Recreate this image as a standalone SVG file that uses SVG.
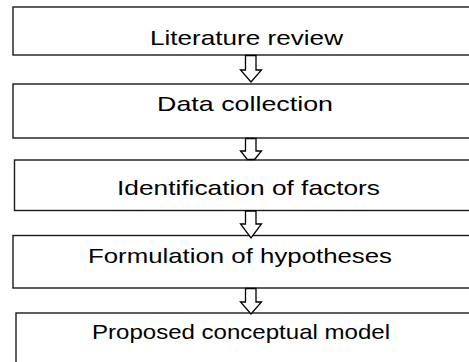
<svg xmlns="http://www.w3.org/2000/svg" width="469" height="362" viewBox="0 0 469 362">
<style>
.box{fill:#fff;stroke:#1a1a1a;stroke-width:1.4}
.lbl{font-family:"Liberation Sans",Arial,sans-serif;font-size:21px;fill:#000;text-anchor:middle}
.arr{fill:#fff;stroke:#000;stroke-width:1.3;stroke-linejoin:miter}
</style>
<rect width="469" height="362" fill="#fff"/>
<g id="n1"><rect class="box" x="13" y="7" width="470" height="48"/><text class="lbl" x="246.5" y="44.5" textLength="193" lengthAdjust="spacingAndGlyphs">Literature review</text></g>
<g id="n2"><rect class="box" x="13" y="84" width="470" height="54"/><text class="lbl" x="245" y="111" textLength="176" lengthAdjust="spacingAndGlyphs">Data collection</text></g>
<g id="n3"><rect class="box" x="14.5" y="160" width="470" height="50.5"/><text class="lbl" x="248.5" y="195" textLength="263" lengthAdjust="spacingAndGlyphs">Identification of factors</text></g>
<g id="n4"><rect class="box" x="13" y="235.5" width="470" height="52.5"/><text class="lbl" x="240" y="262.5" textLength="304" lengthAdjust="spacingAndGlyphs">Formulation of hypotheses</text></g>
<g id="n5"><rect class="box" x="16" y="313" width="470" height="60"/><text class="lbl" x="241" y="338.5" textLength="298" lengthAdjust="spacingAndGlyphs">Proposed conceptual model</text></g>
<g id="connectors">
<polygon class="arr" points="245.5,55.5 256,55.5 256,70 261.5,70 251,82 240.5,70 245.5,70"/>
<polygon class="arr" points="245.5,138.5 256,138.5 256,151 261.5,151 254.6,159.5 247.4,159.5 240.5,151 245.5,151"/>
<polygon class="arr" points="245.5,211 256,211 256,224 261.5,224 251,238 240.5,224 245.5,224"/>
<polygon class="arr" points="245.5,288.5 256,288.5 256,302 261.5,302 251,314 240.5,302 245.5,302"/>
</g>
</svg>
